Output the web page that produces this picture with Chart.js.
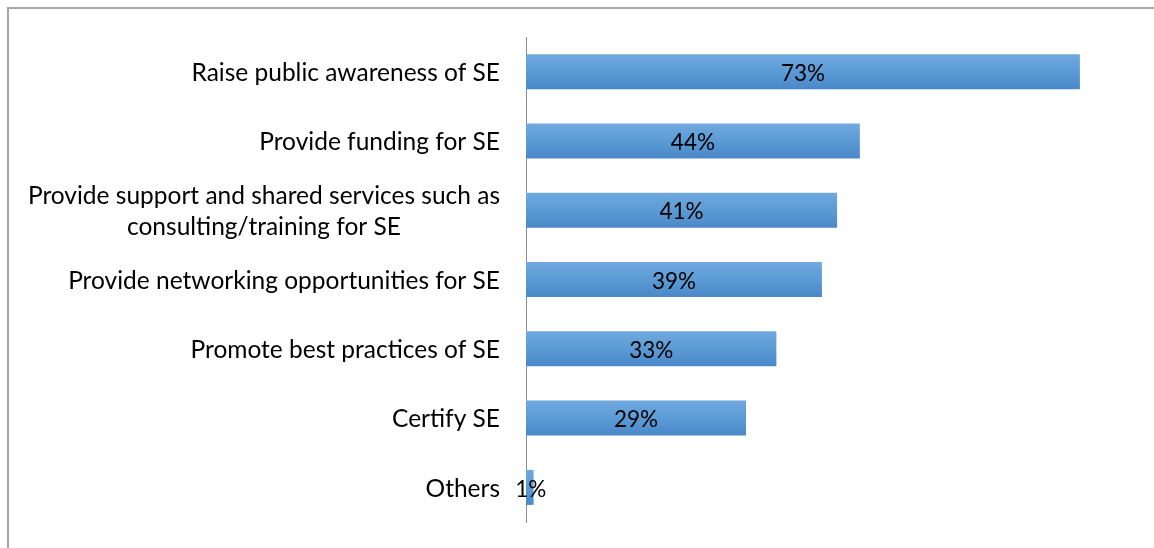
<!DOCTYPE html>
<html>
<head>
<meta charset="utf-8">
<script src="https://cdn.jsdelivr.net/npm/chart.js@4/dist/chart.umd.min.js"></script>
<style>
  html, body { margin: 0; padding: 0; background: #fff; }
  #wrap { position: relative; width: 1154px; height: 548px; overflow: hidden; }
  #frame { position: absolute; left: 7px; top: 7px; width: 1200px; height: 600px;
           border-top: 2px solid #a6a6a6; border-left: 2px solid #a6a6a6; box-sizing: border-box; }
  canvas { position: absolute; left: 0; top: 0; }
</style>
</head>
<body>
<div id="wrap">
  <div id="frame"></div>
  <canvas id="c" width="1154" height="548"></canvas>
</div>
<script>
const categories = [
  ["Raise public awareness of SE"],
  ["Provide funding for SE"],
  ["Provide support and shared services such as", "consulting/training for SE"],
  ["Provide networking opportunities for SE"],
  ["Promote best practices of SE"],
  ["Certify SE"],
  ["Others"]
];
const values = [73, 44, 41, 39, 33, 29, 1];
const axisMin = 0;
const axisMax = 80;

const LABEL_FONT = '24.5px Lato';
const VALUE_FONT = '22.5px Lato';
const BAR_PCT = 0.505;

function barGradient(c) {
  const chart = c.chart;
  const y = chart.scales && chart.scales.y;
  if (!y || y.bottom === undefined || y.top === undefined || y.bottom === y.top) return '#5b9bd5';
  const n = values.length;
  const band = (y.bottom - y.top) / n;
  const h = band * BAR_PCT;
  const cy = y.getPixelForValue(c.dataIndex);
  const g = chart.ctx.createLinearGradient(0, cy - h / 2, 0, cy + h / 2);
  g.addColorStop(0, '#70a9df');
  g.addColorStop(0.5, '#5b9bd5');
  g.addColorStop(1, '#4a88c8');
  return g;
}

const labelPlugin = {
  id: 'customLabels',
  afterDraw(chart) {
    const ctx = chart.ctx;
    const y = chart.scales.y;
    ctx.save();
    ctx.font = LABEL_FONT;
    ctx.fillStyle = '#000';
    ctx.textBaseline = 'middle';
    const rightEdge = chart.chartArea.left - 26;
    const lh = 31.5;
    y.ticks.forEach((t, i) => {
      const lines = categories[i];
      const cy = y.getPixelForTick(i) + 1.5;
      const maxW = Math.max(...lines.map(l => ctx.measureText(l).width));
      const center = rightEdge - maxW / 2;
      ctx.textAlign = 'center';
      lines.forEach((l, j) => {
        const ly = cy + (j - (lines.length - 1) / 2) * lh;
        ctx.fillText(l, center, ly);
      });
    });
    const meta = chart.getDatasetMeta(0);
    ctx.font = VALUE_FONT;
    ctx.textAlign = 'center';
    meta.data.forEach((el, i) => {
      const cx = (el.x + el.base) / 2;
      ctx.fillText(values[i] + '%', cx + (values[i] < 5 ? 1 : 0), el.y + 2);
    });
    ctx.restore();
  }
};

new Chart(document.getElementById('c'), {
  type: 'bar',
  data: {
    labels: categories.map(c => c.join(' ')),
    datasets: [{
      data: values,
      backgroundColor: barGradient,
      borderWidth: 0,
      barPercentage: BAR_PCT,
      categoryPercentage: 1.0
    }]
  },
  options: {
    indexAxis: 'y',
    responsive: false,
    animation: false,
    layout: { padding: { top: 37, bottom: 26, left: 0, right: 21 } },
    plugins: { legend: { display: false }, tooltip: { enabled: false } },
    scales: {
      x: { display: false, min: axisMin, max: axisMax },
      y: {
        display: true,
        grid: { display: false },
        border: { display: true, color: '#8c8c8c', width: 1 },
        ticks: { display: false },
        afterFit(s) { s.width = 526; }
      }
    }
  },
  plugins: [labelPlugin]
});
</script>
</body>
</html>
